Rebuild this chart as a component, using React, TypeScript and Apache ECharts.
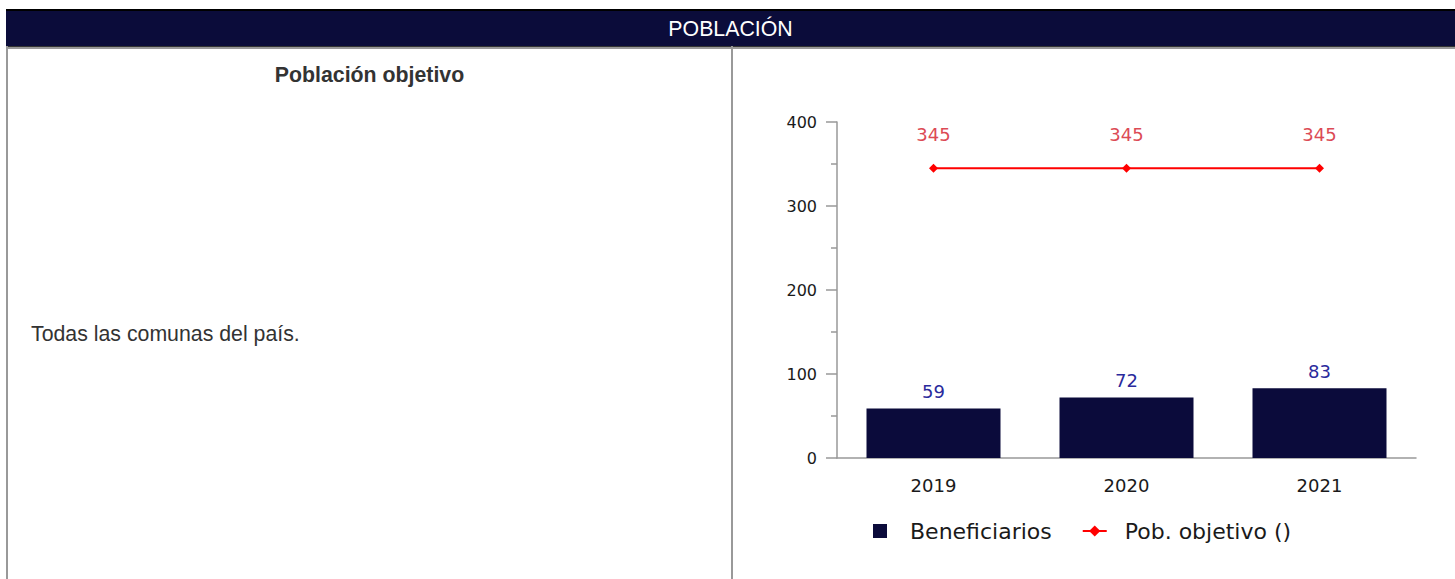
import React, { useEffect, useRef } from "react";
import * as echarts from "echarts";

const years = ["2019", "2020", "2021"];
const beneficiarios = [59, 72, 83];
const pobObjetivo = [345, 345, 345];
const yTicks = { min: 0, max: 400, interval: 100 };

const headerTitle = "POBLACIÓN";
const leftTitle = "Población objetivo";
const leftText = "Todas las comunas del país.";

const chartFont = '"DejaVu Sans", Verdana, sans-serif';

function Chart() {
  const ref = useRef<HTMLDivElement>(null);
  useEffect(() => {
    if (!ref.current) return;
    const chart = echarts.init(ref.current, null, { renderer: "svg" });
    chart.setOption({
      animation: false,
      textStyle: { fontFamily: chartFont },
      grid: { left: 104, right: 39, top: 74, bottom: 121 },
      legend: {
        left: 135,
        top: 467,
        itemWidth: 24,
        itemHeight: 14,
        itemGap: 30,
        textStyle: { fontSize: 22, color: "#1a1a1a", fontFamily: chartFont, padding: [0, 0, 0, 13] },
        data: [
          { name: "Beneficiarios", icon: "path://M0,0h10v10h-10z" },
          { name: "Pob. objetivo ()" },
        ],
      },
      xAxis: {
        type: "category",
        data: years,
        axisLine: { lineStyle: { color: "#999", width: 1.5 } },
        axisTick: { show: false },
        axisLabel: { fontSize: 18, color: "#1a1a1a", margin: 18, fontFamily: chartFont },
      },
      yAxis: {
        type: "value",
        min: yTicks.min,
        max: yTicks.max,
        interval: yTicks.interval,
        axisLine: { show: true, lineStyle: { color: "#999", width: 1.5 } },
        axisTick: { show: true, length: 11, lineStyle: { color: "#999", width: 1.5 } },
        minorTick: { show: true, splitNumber: 2, length: 6, lineStyle: { color: "#999", width: 1.5 } },
        splitLine: { show: false },
        axisLabel: { fontSize: 16, color: "#1a1a1a", margin: 20, fontFamily: chartFont },
      },
      series: [
        {
          name: "Beneficiarios",
          type: "bar",
          data: beneficiarios,
          barWidth: 134,
          itemStyle: { color: "#0b0b3b" },
          label: {
            show: true,
            position: "top",
            distance: 8,
            color: "#2a2a9c",
            fontSize: 18,
            fontFamily: chartFont,
          },
        },
        {
          name: "Pob. objetivo ()",
          type: "line",
          data: pobObjetivo,
          symbol: "diamond",
          symbolSize: 9,
          itemStyle: { color: "#ff0000" },
          lineStyle: { color: "#ff0000", width: 2 },
          label: {
            show: true,
            position: "top",
            distance: 20,
            color: "#dc4b55",
            fontSize: 18,
            fontFamily: chartFont,
          },
        },
      ],
    });
    return () => chart.dispose();
  }, []);
  return <div ref={ref} style={{ position: "absolute", left: 733, top: 48, width: 722, height: 531 }} />;
}

export default function App() {
  return (
    <div
      style={{
        position: "absolute",
        left: 0,
        top: 0,
        width: 1455,
        height: 579,
        overflow: "hidden",
        background: "#fff",
        fontFamily: '"Liberation Sans", Arial, sans-serif',
      }}
    >
      <div
        style={{
          position: "absolute",
          left: 6,
          top: 9,
          width: 1449,
          height: 37,
          background: "#0b0c3a",
          borderTop: "2px solid #000",
          boxSizing: "border-box",
          color: "#fff",
          fontSize: 21.3,
          lineHeight: "36px",
          textAlign: "center",
        }}
      >
        {headerTitle}
      </div>
      <div style={{ position: "absolute", left: 6, top: 46, width: 1449, height: 1, background: "#333" }} />
      <div style={{ position: "absolute", left: 6, top: 47, width: 1449, height: 2, background: "#999" }} />
      <div style={{ position: "absolute", left: 6, top: 46, width: 2, height: 533, background: "#999" }} />
      <div style={{ position: "absolute", left: 731, top: 46, width: 2, height: 533, background: "#999" }} />
      <div
        style={{
          position: "absolute",
          left: 8,
          top: 62,
          width: 723,
          textAlign: "center",
          fontWeight: "bold",
          fontSize: 21.3,
          color: "#333",
          lineHeight: "26px",
        }}
      >
        {leftTitle}
      </div>
      <div
        style={{
          position: "absolute",
          left: 31,
          top: 321,
          fontSize: 21.3,
          color: "#333",
          lineHeight: "26px",
          whiteSpace: "nowrap",
        }}
      >
        {leftText}
      </div>
      <Chart />
    </div>
  );
}
